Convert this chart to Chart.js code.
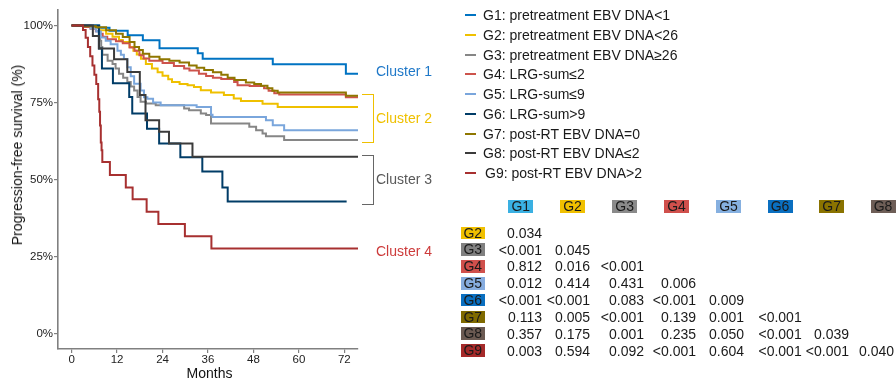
<!DOCTYPE html>
<html><head><meta charset="utf-8">
<script src="https://cdn.jsdelivr.net/npm/chart.js@4"></script>
<style>
html,body{margin:0;padding:0;background:#fff;}
body{width:896px;height:382px;position:relative;overflow:hidden;font-family:"Liberation Sans",Arial,Helvetica,sans-serif;}
#c{position:absolute;left:0;top:0;}
.t{position:absolute;white-space:nowrap;font-size:14px;line-height:16px;color:#1a1a1a;}
.dash{position:absolute;height:2px;width:11px;}
.box{position:absolute;font-size:14px;text-align:center;color:#1a1a1a;white-space:nowrap;overflow:visible;}
.val{position:absolute;font-size:14px;line-height:16px;color:#1a1a1a;text-align:right;white-space:nowrap;}
.br{position:absolute;border-style:solid;border-left:none;}
</style>
</head><body>
<canvas id="c" width="896" height="382"></canvas>
<div id="ov"></div>
<script>
// ---------------- data ----------------
const xTicks = [0, 12, 24, 36, 48, 60, 72];
const yTicks = [0, 25, 50, 75, 100];
const groupNames = ['G1','G2','G3','G4','G5','G6','G7','G8','G9'];
const legendLabels = [
  'G1: pretreatment EBV DNA<1',
  'G2: pretreatment EBV DNA<26',
  'G3: pretreatment EBV DNA\u226526',
  'G4: LRG-sum\u22642',
  'G5: LRG-sum\u22649',
  'G6: LRG-sum>9',
  'G7: post-RT EBV DNA=0',
  'G8: post-RT EBV DNA\u22642',
  'G9: post-RT EBV DNA>2'
];
const clusterLabels = ['Cluster 1','Cluster 2','Cluster 3','Cluster 4'];

const g1Time = [0,7.3,10,14.8,18.8,23.2,33.3,34.6,53.1,72.4,75.6];
const g1Surv = [100,99.2,98.3,96.8,95.2,92.6,91,89.2,87.4,84.3,84.3];

const g2Time = [0,3,6.4,7.3,9.1,10.8,12.5,13.5,15.3,16.3,17.2,18.3,19.6,21.2,22.7,24,25.5,26.5,28.5,30.6,32.3,34.1,36.8,40.2,42.8,44.7,50.4,54.4,75.6];
const g2Surv = [100,99.6,99.2,98.4,97.3,96.3,95.3,94.6,93,91.8,90.6,89.2,87.5,86,84.8,83.7,82.5,81.6,81,80.6,80,79,78.2,77.4,76.3,75.5,74.6,73.5,73.5];

const g3Time = [0,5,7.2,7.5,7.8,8.1,9.5,10.8,11.6,12.5,13.6,14.7,15.6,16.5,17.4,18.2,19.6,22.2,29.7,31,34.1,35.5,36.8,46.9,48.7,50.4,51.3,56.1,75.6];
const g3Surv = [100,99.3,97,95,93,90.5,88.5,87.5,86,84.3,83,81.6,80.2,78.9,76.8,75.2,74.7,74.1,73,72.5,71.4,70.9,68.2,67.1,66,64.9,64,62.8,62.8];

const g4Time = [0,3.5,5,6.4,7.3,8.2,9.4,11.7,13.5,15.3,16.6,17.9,19,20.5,24,27,29.7,31.1,33.6,35.5,37.3,39.5,42.9,43.8,47,50.8,52,53.5,54.8,72.4,75.6];
const g4Surv = [100,99.5,98.9,98.1,97.3,96.3,95.5,94.9,94.2,92.8,91.8,90.3,89.3,88.5,87.8,86.8,86,85.4,84.3,83.6,83,82.6,81.6,80.6,80.3,79.6,78.8,78,77.6,76.7,76.7];

const g5Time = [0,5,6.5,7.7,9,10.3,12.1,13,13.8,14.7,15.6,16.5,18.2,19.1,20,21.5,23.5,33,36.8,37.2,51.3,53.1,56.1,75.6];
const g5Surv = [100,99,98,96.1,95,93.9,91.8,90.5,89.1,86.4,83.5,81.1,78.9,76.7,76.2,75,74.1,73.5,71,70.3,69.2,67.6,66,66];

const g6Time = [0,7.2,8.0,10.9,15.2,16.0,19.9,23.1,28.7,34.5,39.8,41.2,72.6];
const g6Surv = [100,92.5,86,81.2,76.8,71.4,66.5,61.7,57.2,52.6,47.4,42.9,42.9];

const g7Time = [0,3,6.4,9.1,11.7,13.5,15.3,16.6,17.8,18.8,20.5,23.2,25.8,28.5,31,33,35,37.3,39.5,41.2,43,46,48.2,50,51.7,53,54.4,72.4,75.6];
const g7Surv = [100,99.7,99.4,98.4,97.3,96.2,94.6,93,92,90.8,89.8,89,88.5,88,87,86.3,85.5,84.8,84,83,82.3,81.5,81,80.4,79.6,78.8,78.2,77.2,77.2];

const g8Time = [0,5.6,7.2,11.2,14.7,18.0,19.5,23.1,25.7,31.9,75.6];
const g8Surv = [100,96.6,92.5,89,84.9,77.4,69.2,65.5,61.7,57.4,57.4];

const g9Time = [0,3.0,3.7,4.3,4.9,5.5,6.0,6.5,7.0,7.3,7.5,7.7,7.9,8.1,10.1,14.3,16.1,19.8,22.9,29.9,36.9,75.6];
const g9Surv = [100,98.5,96,93,90,87,84,81,76,72,67.5,62,59.5,55.7,51.5,47.4,43.6,39.5,35.6,31.6,27.6,27.6];

// pairwise p-values (row Gi vs column Gj), lower triangle
const pRows = ['G2','G3','G4','G5','G6','G7','G8','G9'];
const pCols = ['G1','G2','G3','G4','G5','G6','G7','G8'];
const pValues = [
  ['0.034'],
  ['<0.001','0.045'],
  ['0.812','0.016','<0.001'],
  ['0.012','0.414','0.431','0.006'],
  ['<0.001','<0.001','0.083','<0.001','0.009'],
  ['0.113','0.005','<0.001','0.139','0.001','<0.001'],
  ['0.357','0.175','0.001','0.235','0.050','<0.001','0.039'],
  ['0.003','0.594','0.092','<0.001','0.604','<0.001','<0.001','0.040']
];

// ---------------- styles ----------------
const lineColors = ['#0073C2','#EFC000','#868686','#CD534C','#7AA6DC','#003C67','#8F7700','#3B3B3B','#A73030'];
const headColors = {G1:'#3AB0E2',G2:'#F0C000',G3:'#8A8A8A',G4:'#D0504C',G5:'#86B0E0',G6:'#0A6FC0',G7:'#8A7300',G8:'#6E5E57'};
const rowColors  = {G2:'#F0C000',G3:'#808080',G4:'#D0504C',G5:'#86ACDF',G6:'#0A6FC0',G7:'#7F6A00',G8:'#6B5A52',G9:'#A52A2A'};
const clusterColors = ['#1F78C8','#EFC000','#595959','#CD3B3B'];
const FONT = '"Liberation Sans", Arial, Helvetica, sans-serif';

const series = [
  [g1Time,g1Surv],[g2Time,g2Surv],[g3Time,g3Surv],[g4Time,g4Surv],[g5Time,g5Surv],
  [g6Time,g6Surv],[g7Time,g7Surv],[g8Time,g8Surv],[g9Time,g9Surv]
];

const datasets = series.map(([t,s],i)=>({
  label: legendLabels[i],
  data: t.map((x,j)=>({x:x,y:s[j]})),
  borderColor: lineColors[i],
  borderWidth: 2,
  pointRadius: 0,
  pointHoverRadius: 0,
  stepped: true,
  fill: false,
  tension: 0,
  order: 8 - i
}));

const axisGray = '#808080';
new Chart(document.getElementById('c'), {
  type: 'line',
  data: { datasets },
  options: {
    responsive: false,
    animation: false,
    events: [],
    layout: { padding: { left: 0, right: 538, top: 10, bottom: 0 } },
    plugins: { legend: { display: false }, tooltip: { enabled: false } },
    scales: {
      x: {
        type: 'linear', min: -3.6, max: 75.6,
        afterBuildTicks: s => { s.ticks = xTicks.map(v => ({ value: v })); },
        afterFit: s => { s.height = 33; },
        grid: { display: true, drawOnChartArea: false, drawTicks: true, tickLength: 4, color: axisGray, lineWidth: 1.2 },
        border: { display: true, color: axisGray, width: 1.6 },
        ticks: { font: { family: FONT, size: 11.5 }, color: '#222', padding: 0, maxRotation: 0, autoSkip: false }
      },
      y: {
        type: 'linear', min: -5, max: 105,
        afterBuildTicks: s => { s.ticks = yTicks.map(v => ({ value: v })); },
        afterFit: s => { s.width = 58; },
        grid: { display: true, drawOnChartArea: false, drawTicks: true, tickLength: 4, color: axisGray, lineWidth: 1.2 },
        border: { display: true, color: axisGray, width: 1.6 },
        ticks: { font: { family: FONT, size: 11.5 }, color: '#222', padding: 1, autoSkip: false, callback: v => v + '%' }
      }
    }
  }
});

// ---------------- overlay texts ----------------
const ov = document.getElementById('ov');
function add(cls, html, css){ const d=document.createElement('div'); d.className=cls; if(html!==null) d.textContent=html; Object.assign(d.style, css); ov.appendChild(d); return d; }

// axis titles
add('t','Months',{left:'209.5px',top:'364.5px',transform:'translateX(-50%)',color:'#111'});
add('t','Progression-free survival (%)',{left:'17px',top:'155px',transform:'translate(-50%,-50%) rotate(-90deg)',color:'#111'});

// legend
legendLabels.forEach((lab,i)=>{
  const cy = 15 + i*19.75;
  add('dash',null,{left:'465px',top:(cy-1)+'px',background:lineColors[i]});
  add('t',lab,{left:(i===8?485:483)+'px',top:(cy-8)+'px'});
});

// cluster labels
const clusterY = [71, 118.3, 179, 250.7];
clusterLabels.forEach((lab,i)=>{
  add('t',lab,{left:'376px',top:(clusterY[i]-8)+'px',color:clusterColors[i]});
});
// brackets
add('br',null,{left:'361.5px',top:'93.5px',width:'11px',height:'47px',borderWidth:'1.5px',borderColor:'#EFC000'});
add('br',null,{left:'361.5px',top:'154.5px',width:'11px',height:'48px',borderWidth:'1.5px',borderColor:'#666'});

// table
const headCx = [520.8, 572.5, 624.7, 676.5, 728.5, 780, 831.7, 883];
const colRight = [542, 590, 644, 696, 744, 801.7, 849, 894];
pCols.forEach((g,j)=>{
  add('box',g,{left:(headCx[j]-12.5)+'px',top:'200px',width:'25px',height:'13px',lineHeight:'13px',background:headColors[g]});
});
pRows.forEach((g,i)=>{
  const cy = 232.8 + i*16.82;
  add('box',g,{left:'460.7px',top:(cy-6.3)+'px',width:'24.3px',height:'12.6px',lineHeight:'13px',background:rowColors[g]});
  pValues[i].forEach((v,j)=>{
    add('val',v,{left:(colRight[j]-60)+'px',width:'60px',top:(cy-8)+'px'});
  });
});
</script>
</body></html>
